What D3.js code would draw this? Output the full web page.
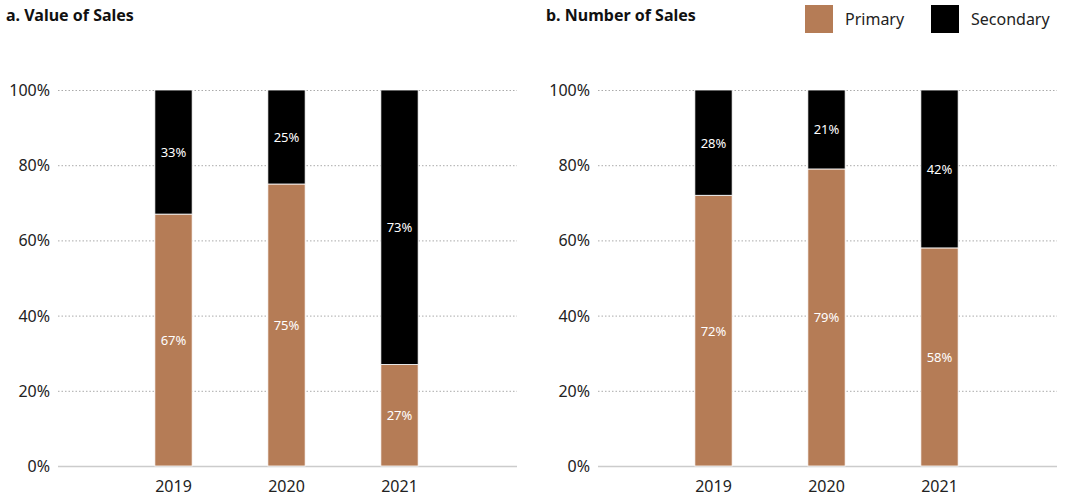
<!DOCTYPE html>
<html>
<head>
<meta charset="utf-8">
<script src="https://cdn.jsdelivr.net/npm/d3@7"></script>
<style>
  html, body { margin: 0; padding: 0; background: #fff; }
  svg { display: block; font-family: "Noto Sans", "Open Sans", sans-serif; }
</style>
</head>
<body>
<svg id="chart" width="1067" height="496"></svg>
<script>
'use strict';

var years = ['2019', '2020', '2021'];
var valuePrimary = [67, 75, 27];
var valueSecondary = [33, 25, 73];
var numberPrimary = [72, 79, 58];
var numberSecondary = [28, 21, 42];
var yTicks = [0, 20, 40, 60, 80, 100];
var seriesNames = ['Primary', 'Secondary'];
var colors = ['#b57c56', '#000000'];

var svg = d3.select('#chart');

function panel(left, title, primary, secondary) {
	var g = svg.append('g');
	var axisLeft = left + 58, axisRight = left + 517;
	var y = d3.scaleLinear().domain([0, 100]).range([466, 90]);
	var x = d3.scaleBand().domain(years)
		.range([left + 117, left + 456]).paddingInner(0.67).paddingOuter(0.335);

	g.append('text')
		.attr('x', left + 6).attr('y', 21)
		.attr('font-size', 16).attr('font-weight', 'bold').attr('fill', '#111')
		.text(title);

	// gridlines
	g.selectAll('line.grid')
		.data(yTicks.filter(function(t) { return t > 0; }))
		.enter().append('line')
		.attr('x1', axisLeft).attr('x2', axisRight)
		.attr('y1', function(d) { return y(d) + 0.5; })
		.attr('y2', function(d) { return y(d) + 0.5; })
		.attr('stroke', '#aaa').attr('stroke-width', 1)
		.attr('stroke-dasharray', '1.5,2');
	g.append('line')
		.attr('x1', axisLeft).attr('x2', axisRight)
		.attr('y1', y(0) + 0.5).attr('y2', y(0) + 0.5)
		.attr('stroke', '#ccc').attr('stroke-width', 1.5);

	g.selectAll('text.tick')
		.data(yTicks).enter().append('text')
		.attr('x', left + 50).attr('y', function(d) { return y(d) + 6; })
		.attr('text-anchor', 'end').attr('font-size', 16).attr('fill', '#222')
		.text(function(d) { return d + '%'; });

	g.selectAll('text.year')
		.data(years).enter().append('text')
		.attr('x', function(d) { return x(d) + x.bandwidth() / 2; })
		.attr('y', 492)
		.attr('text-anchor', 'middle').attr('font-size', 16).attr('fill', '#222')
		.text(function(d) { return d; });

	var rows = years.map(function(yr, i) {
		return { year: yr, Primary: primary[i], Secondary: secondary[i] };
	});
	var stacked = d3.stack().keys(seriesNames)(rows);

	stacked.forEach(function(layer, li) {
		g.selectAll(null)
			.data(layer).enter().append('rect')
			.attr('x', function(d) { return x(d.data.year); })
			.attr('width', x.bandwidth())
			.attr('y', function(d) { return y(d[1]); })
			.attr('height', function(d) { return y(d[0]) - y(d[1]); })
			.attr('fill', colors[li])
			.attr('stroke', '#fff').attr('stroke-width', 0.8);
		g.selectAll(null)
			.data(layer).enter().append('text')
			.attr('x', function(d) { return x(d.data.year) + x.bandwidth() / 2; })
			.attr('y', function(d) { return (y(d[0]) + y(d[1])) / 2 + 5; })
			.attr('text-anchor', 'middle').attr('font-size', 13).attr('fill', '#fff')
			.text(function(d) { return (d[1] - d[0]) + '%'; });
	});
}

panel(0, 'a. Value of Sales', valuePrimary, valueSecondary);
panel(540, 'b. Number of Sales', numberPrimary, numberSecondary);

// legend
var legendX = [805, 931];
var legend = svg.append('g');
seriesNames.forEach(function(name, i) {
	legend.append('rect')
		.attr('x', legendX[i]).attr('y', 5).attr('width', 28).attr('height', 28)
		.attr('fill', colors[i]);
	legend.append('text')
		.attr('x', legendX[i] + 40).attr('y', 25)
		.attr('font-size', 16).attr('fill', '#222')
		.text(name);
});
</script>
</body>
</html>
